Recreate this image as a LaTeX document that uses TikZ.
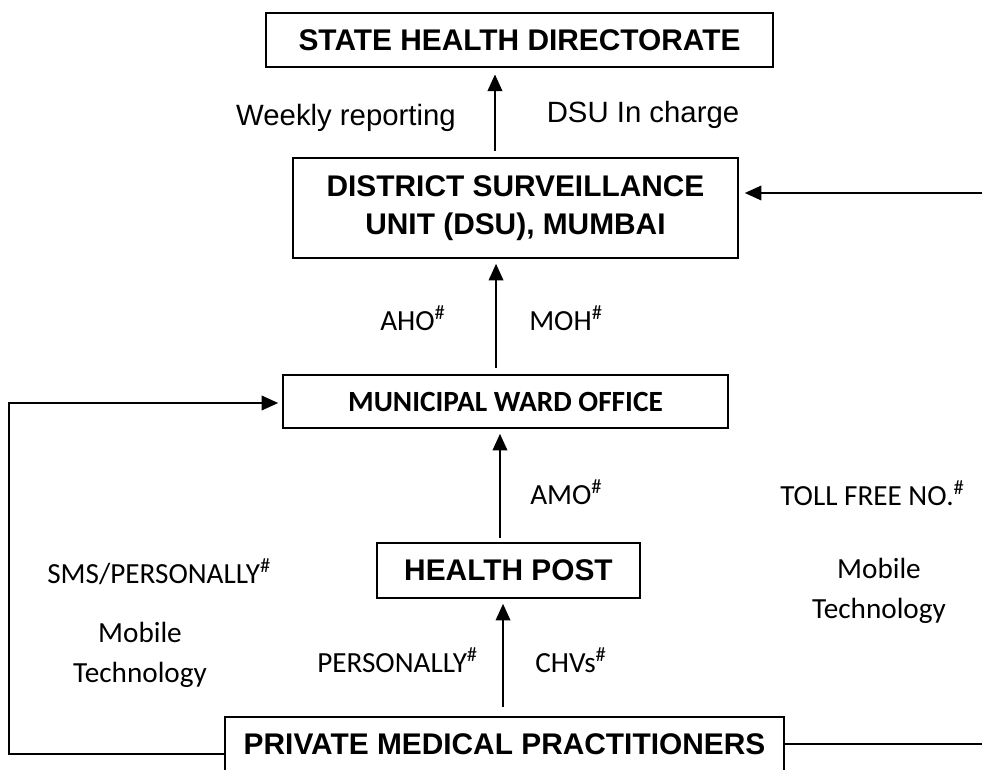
\documentclass[tikz,border=0pt]{standalone}
\usepackage{fontspec}
\setmainfont{Liberation Sans}
\newfontfamily\calibri{Carlito}
\usetikzlibrary{arrows.meta,positioning,calc}

\begin{document}
\begin{tikzpicture}[
    x=0.75pt, y=-0.75pt,
    office/.style={rectangle, draw, line width=1.2pt, inner sep=0pt, align=center, font=\bfseries\fontsize{22.4}{28.5}\selectfont},
    tag/.style={inner sep=0pt, font=\fontsize{22}{26}\selectfont},
    note/.style={inner sep=0pt, align=center, font=\calibri\fontsize{21.9}{30}\selectfont},
    flow/.style={-{Triangle[length=12.5pt,width=11pt]}, line width=1.3pt}
]
    \useasboundingbox (0,0) rectangle (982,770);

    % Reporting levels
    \node[office, minimum width=380.25pt, minimum height=40.5pt] (shd) at (519.5,40) {STATE HEALTH DIRECTORATE};
    \node[office, minimum width=333.75pt, minimum height=75pt] (dsu) at (515.5,208) {DISTRICT SURVEILLANCE\\UNIT (DSU), MUMBAI};
    \node[office, minimum width=333.75pt, minimum height=39.75pt, font=\calibri\bfseries\fontsize{22}{26}\selectfont] (mwo) at (505.5,401.5) {MUNICIPAL WARD OFFICE};
    \node[office, minimum width=197.25pt, minimum height=41.25pt] (hp) at (508.5,570.5) {HEALTH POST};
    \node[office, minimum width=419.25pt, minimum height=40.5pt] (pmp) at (504.5,744) {PRIVATE MEDICAL PRACTITIONERS};

    % Channel labels
    \node[tag, anchor=base] (weekly) at (346,126) {Weekly reporting};
    \node[tag, anchor=base] (incharge) at (643,123) {DSU In charge};
    \node[note, anchor=base west] (aho) at (380,330) {AHO\textsuperscript{\#}};
    \node[note, anchor=base west] (moh) at (529,330) {MOH\textsuperscript{\#}};
    \node[note, anchor=base west] (amo) at (530,504) {AMO\textsuperscript{\#}};
    \node[note, anchor=base west] (tollfree) at (780,505) {TOLL FREE NO.\textsuperscript{\#}};
    \node[note, anchor=base west] (sms) at (47,583) {SMS/PERSONALLY\textsuperscript{\#}};
    \node[note, anchor=base west] (personally) at (317,672) {PERSONALLY\textsuperscript{\#}};
    \node[note, anchor=base west] (chvs) at (535,672) {CHVs\textsuperscript{\#}};
    \node[note] (mobileleft) at (140,655) {Mobile\\Technology};
    \node[note] (mobileright) at (879,591) {Mobile\\Technology};

    % Reporting flow
    \draw[flow, shorten <=4.5pt, shorten >=5pt] ([xshift=-15.4pt]dsu.north) -- ([xshift=-15.4pt]dsu.north |- shd.south);
    \draw[flow, shorten <=4.5pt, shorten >=3.75pt] ([xshift=-7.1pt]mwo.north) -- ([xshift=-7.1pt]mwo.north |- dsu.south);
    \draw[flow, shorten <=3pt, shorten >=3.75pt] ([xshift=-6.4pt]hp.north) -- ([xshift=-6.4pt]hp.north |- mwo.south);
    \draw[flow, shorten <=6.75pt, shorten >=3.75pt] ([xshift=-1.1pt]pmp.north) -- ([xshift=-1.1pt]pmp.north |- hp.south);

    % Direct channels
    \coordinate (leftrail) at (9,403);
    \coordinate (rightrail) at (986,193);
    \draw[flow, shorten >=3pt] ([yshift=-7.5pt]pmp.west) -| (leftrail) -- (leftrail -| mwo.west);
    \draw[flow, shorten >=4.5pt] (pmp.east) -| (rightrail) -- (rightrail -| dsu.east);

\end{tikzpicture}
\end{document}
